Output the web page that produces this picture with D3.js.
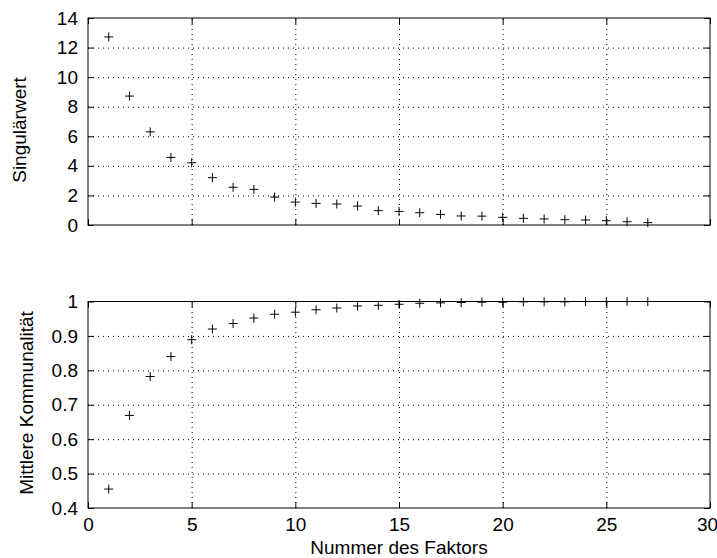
<!DOCTYPE html>
<html>
<head>
<meta charset="utf-8">
<script src="https://cdn.jsdelivr.net/npm/d3@7"></script>
<style>
  body { margin: 0; background: #fff; }
  svg { display: block; font-family: "Liberation Sans", Arial, sans-serif; }
  .axis path { display: none; }
  .axis line { stroke: #000; }
  .axis text { font-size: 19px; fill: #000; font-family: "Liberation Sans", Arial, sans-serif; }
  .grid line { stroke: #000; stroke-dasharray: 1,4; }
  .grid path { display: none; }
</style>
</head>
<body>
<div id="chart"></div>
<script>
// Faktor-Nummern 1..27
var faktoren = [1,2,3,4,5,6,7,8,9,10,11,12,13,14,15,16,17,18,19,20,21,22,23,24,25,26,27];
var singulaerwerte = [12.72, 8.72, 6.3, 4.57, 4.21, 3.2, 2.55, 2.41, 1.89, 1.55, 1.46, 1.42, 1.28,
                      0.97, 0.92, 0.83, 0.72, 0.61, 0.6, 0.52, 0.45, 0.41, 0.36, 0.34, 0.29, 0.22, 0.16];
var kommunalitaet = [0.455, 0.669, 0.782, 0.84, 0.889, 0.92, 0.936, 0.952, 0.963, 0.969, 0.976, 0.981, 0.987,
                     0.989, 0.992, 0.995, 0.996, 0.997, 0.998, 0.998, 0.999, 0.999, 0.999, 1.0, 1.0, 1.0, 1.0];
var xTicks = [0, 5, 10, 15, 20, 25, 30];
var yTicksTop = [0, 2, 4, 6, 8, 10, 12, 14];
var yTicksBot = [0.4, 0.5, 0.6, 0.7, 0.8, 0.9, 1];

var width = 717, height = 558;
var left = 88, right = 710;

var svg = d3.select("#chart")
            .append("svg")
            .attr("width", width)
            .attr("height", height);

var x = d3.scaleLinear().domain([0, 30]).range([left, right]);

function panel(y, yTicks, values, yLabel, labelX, labelY, showX) {
    var top = y.range()[1], bottom = y.range()[0];
    var g = svg.append("g");

    // gitterlinien
    g.append("g").attr("class", "grid")
     .attr("transform", "translate(0," + bottom + ")")
     .call(d3.axisBottom(x).tickValues(xTicks.slice(1, -1)).tickSize(-(bottom - top)).tickFormat(""));
    g.append("g").attr("class", "grid")
     .attr("transform", "translate(" + left + ",0)")
     .call(d3.axisLeft(y).tickValues(yTicks.slice(1, -1)).tickSize(-(right - left)).tickFormat(""));

    // achsen mit ticks nach innen
    g.append("g").attr("class", "axis")
     .attr("transform", "translate(" + left + ",0)")
     .call(d3.axisLeft(y).tickValues(yTicks).tickSize(-6).tickPadding(10)
            .tickFormat(function(d) { return String(+d.toFixed(1)); }));
    g.append("g").attr("class", "axis")
     .attr("transform", "translate(" + right + ",0)")
     .call(d3.axisRight(y).tickValues(yTicks).tickSize(-6).tickFormat(""));
    var xa = g.append("g").attr("class", "axis")
     .attr("transform", "translate(0," + bottom + ")")
     .call(d3.axisBottom(x).tickValues(xTicks).tickSize(-6).tickPadding(10)
            .tickFormat(showX ? d3.format("d") : ""));
    // letzte beschriftung wie im original an den rand geschoben
    xa.selectAll(".tick text").filter(function(d) { return d === 30; }).attr("dx", -3);
    g.append("g").attr("class", "axis")
     .attr("transform", "translate(0," + top + ")")
     .call(d3.axisTop(x).tickValues(xTicks).tickSize(-6).tickFormat(""));

    g.append("rect")
     .attr("x", left).attr("y", top)
     .attr("width", right - left).attr("height", bottom - top)
     .attr("fill", "none").attr("stroke", "#000").attr("stroke-width", 1);

    // plus-marker
    var s = 4.5;
    var pts = g.append("g").selectAll(".pt")
               .data(values)
               .enter();
    pts.append("line")
       .attr("x1", function(d, i) { return x(faktoren[i]) - s; })
       .attr("x2", function(d, i) { return x(faktoren[i]) + s; })
       .attr("y1", function(d) { return y(d); })
       .attr("y2", function(d) { return y(d); })
       .attr("stroke", "#000");
    pts.append("line")
       .attr("x1", function(d, i) { return x(faktoren[i]); })
       .attr("x2", function(d, i) { return x(faktoren[i]); })
       .attr("y1", function(d) { return y(d) - s; })
       .attr("y2", function(d) { return y(d) + s; })
       .attr("stroke", "#000");

    svg.append("text")
       .attr("transform", "translate(" + labelX + "," + labelY + ") rotate(-90)")
       .attr("text-anchor", "middle")
       .style("font-size", "19px")
       .text(yLabel);
}

var yTop = d3.scaleLinear().domain([0, 14]).range([225, 18]);
var yBot = d3.scaleLinear().domain([0.4, 1]).range([508, 301.5]);

panel(yTop, yTicksTop, singulaerwerte, "Singulärwert", 26, 130, false);
panel(yBot, yTicksBot, kommunalitaet, "Mittlere Kommunalität", 33, 403, true);

svg.append("text")
   .attr("x", (left + right) / 2)
   .attr("y", 554)
   .attr("text-anchor", "middle")
   .style("font-size", "19px")
   .text("Nummer des Faktors");
</script>
</body>
</html>
